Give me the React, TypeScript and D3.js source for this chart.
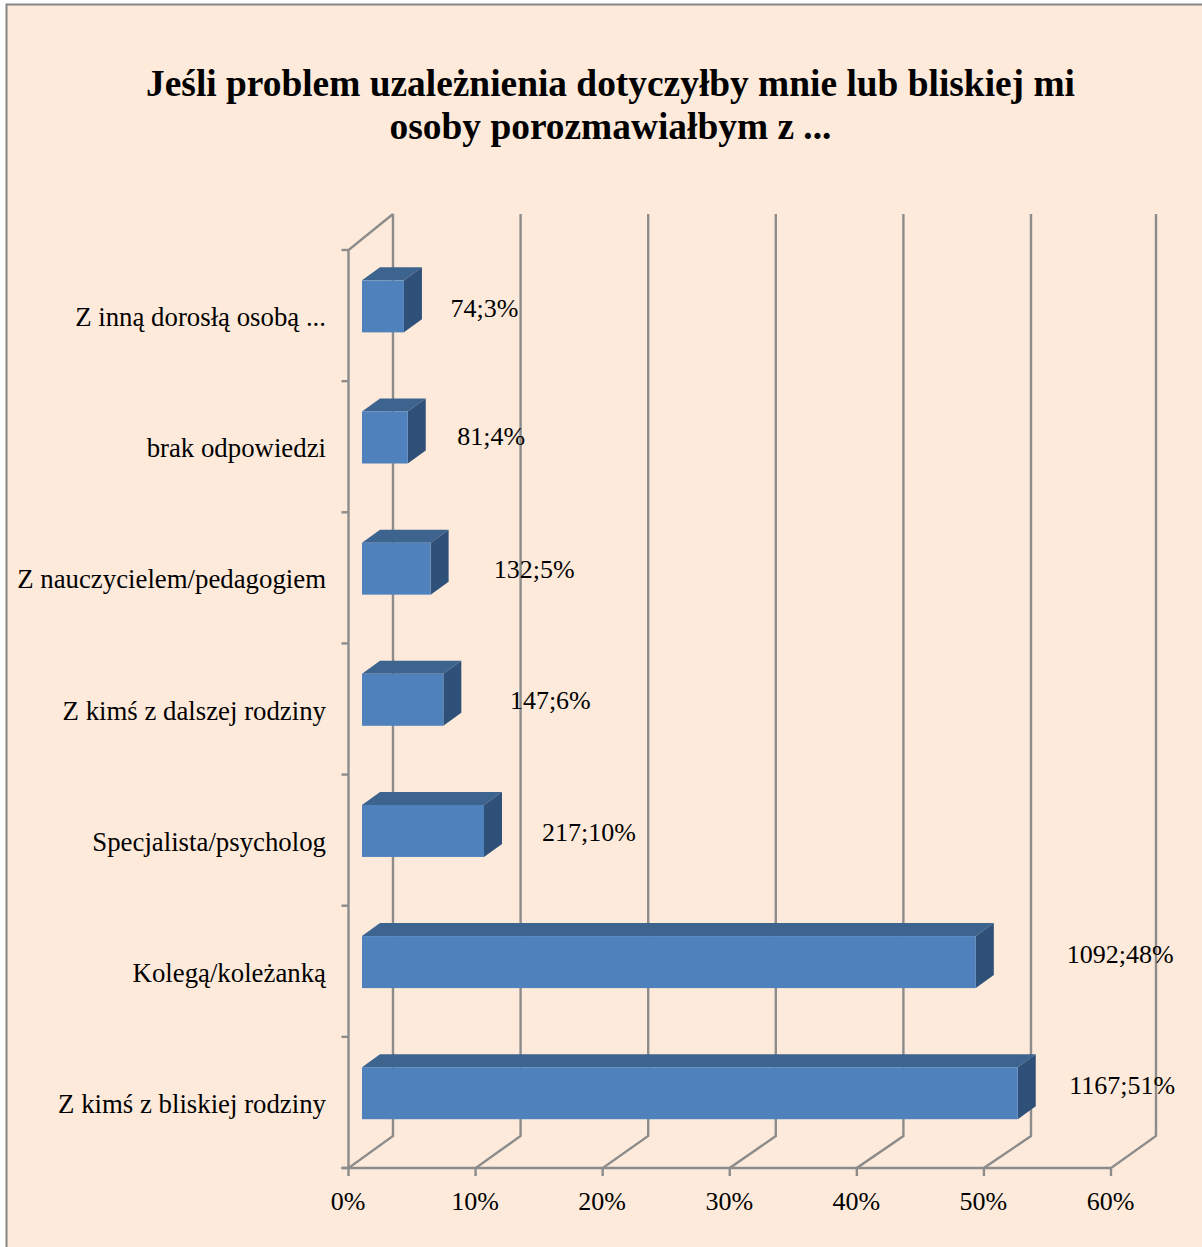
import React from "react";
import * as d3 from "d3";

// top to bottom, as on the chart
const categories = [
  "Z inną dorosłą osobą ...",
  "brak odpowiedzi",
  "Z nauczycielem/pedagogiem",
  "Z kimś z dalszej rodziny",
  "Specjalista/psycholog",
  "Kolegą/koleżanką",
  "Z kimś z bliskiej rodziny",
];
const barValues = [3.3, 3.6, 5.4, 6.4, 9.6, 48.3, 51.6];
const counts = [74, 81, 132, 147, 217, 1092, 1167];
const percents = [3, 4, 5, 6, 10, 48, 51];
const xTicks = [0, 10, 20, 30, 40, 50, 60];
const titleLines = [
  "Jeśli problem uzależnienia dotyczyłby mnie lub bliskiej mi",
  "osoby porozmawiałbym z ...",
];

// labels were placed by hand in the original, so they need their own nudges
const labelDx = [80.5, 83.5, 103.5, 107, 105, 144.5, 104.5];
const labelDy = [3, 0.5, 2, 2, 2.5, -6, -6];

const FONT = "'Liberation Serif', 'Times New Roman', serif";
const GRID = "#8c8c8c";

export default function App() {
  const top = 250;
  const floor = 1168;
  const x = d3.scaleLinear().domain([0, 60]).range([348.5, 1111]);
  // back wall is not quite parallel to the front in the original
  const xBack = d3.scaleLinear().domain([0, 50, 60]).range([393, 1031, 1156]);
  const y = d3.scaleBand<string>().domain(categories).range([top, floor]);

  const backY = 1136;
  const wallTop = 214;
  const barInset = 13.5;
  const barH = 52;
  const depthX = 18;
  const depthY = -13;

  return (
    <svg
      width={1202}
      height={1247}
      style={{ position: "absolute", left: 0, top: 0, display: "block" }}
      fontFamily={FONT}
    >
      <rect x={6.5} y={4.5} width={1300} height={1300} fill="#fdeada" stroke="#868686" strokeWidth={2} />

      {titleLines.map((t, i) => (
        <text key={t} x={610.5} y={96 + i * 43} textAnchor="middle" fontSize={37.4} fontWeight="bold" fill="#000">
          {t}
        </text>
      ))}

      {/* walls and floor */}
      <g fill="none" stroke={GRID} strokeWidth={2.4}>
        <path d={`M${x(0)},${floor}V${top}L${xBack(0)},${wallTop}`} />
        <path d={`M${x(0) - 7},${top}H${x(0)}`} />
        <path d={`M${x(0) - 7},${floor}H${x(60)}`} />
        {y.domain().map((c) => (
          <path key={c} d={`M${x(0) - 7},${(y(c) as number) + y.bandwidth()}H${x(0)}`} />
        ))}
        {xTicks.map((t) => (
          <path key={t} d={`M${x(t)},${floor + 8}V${floor}L${xBack(t)},${backY}V${wallTop}`} />
        ))}
      </g>

      {/* bars */}
      {categories.map((c, i) => {
        const x0 = x(0) + barInset;
        const x1 = x(barValues[i]) + barInset;
        const y0 = (y(c) as number) + y.bandwidth() / 2 - barH / 2 - 9.2;
        const y1 = y0 + barH;
        return (
          <g key={c}>
            <path
              d={`M${x0},${y0}L${x0 + depthX},${y0 + depthY}H${x1 + depthX}L${x1},${y0}Z`}
              fill="#3d638f"
            />
            <path
              d={`M${x1},${y0}L${x1 + depthX},${y0 + depthY}V${y1 + depthY}L${x1},${y1}Z`}
              fill="#2f5078"
            />
            <rect x={x0} y={y0} width={x1 - x0} height={barH} fill="#4f81bd" />
          </g>
        );
      })}

      {/* category labels */}
      {categories.map((c) => (
        <text
          key={c}
          x={326}
          y={(y(c) as number) + y.bandwidth() / 2 + 10.5}
          textAnchor="end"
          fontSize={26.8}
          fill="#000"
        >
          {c}
        </text>
      ))}

      {/* data labels */}
      {categories.map((c, i) => (
        <text
          key={c}
          x={x(barValues[i]) + barInset + labelDx[i]}
          y={(y(c) as number) + y.bandwidth() / 2 - 2 + labelDy[i]}
          textAnchor="middle"
          fontSize={26}
          fill="#000"
        >
          {`${counts[i]};${percents[i]}%`}
        </text>
      ))}

      {/* x tick labels */}
      {xTicks.map((t) => (
        <text key={t} x={x(t) - 0.5} y={1210} textAnchor="middle" fontSize={26} fill="#000">
          {`${t}%`}
        </text>
      ))}
    </svg>
  );
}
